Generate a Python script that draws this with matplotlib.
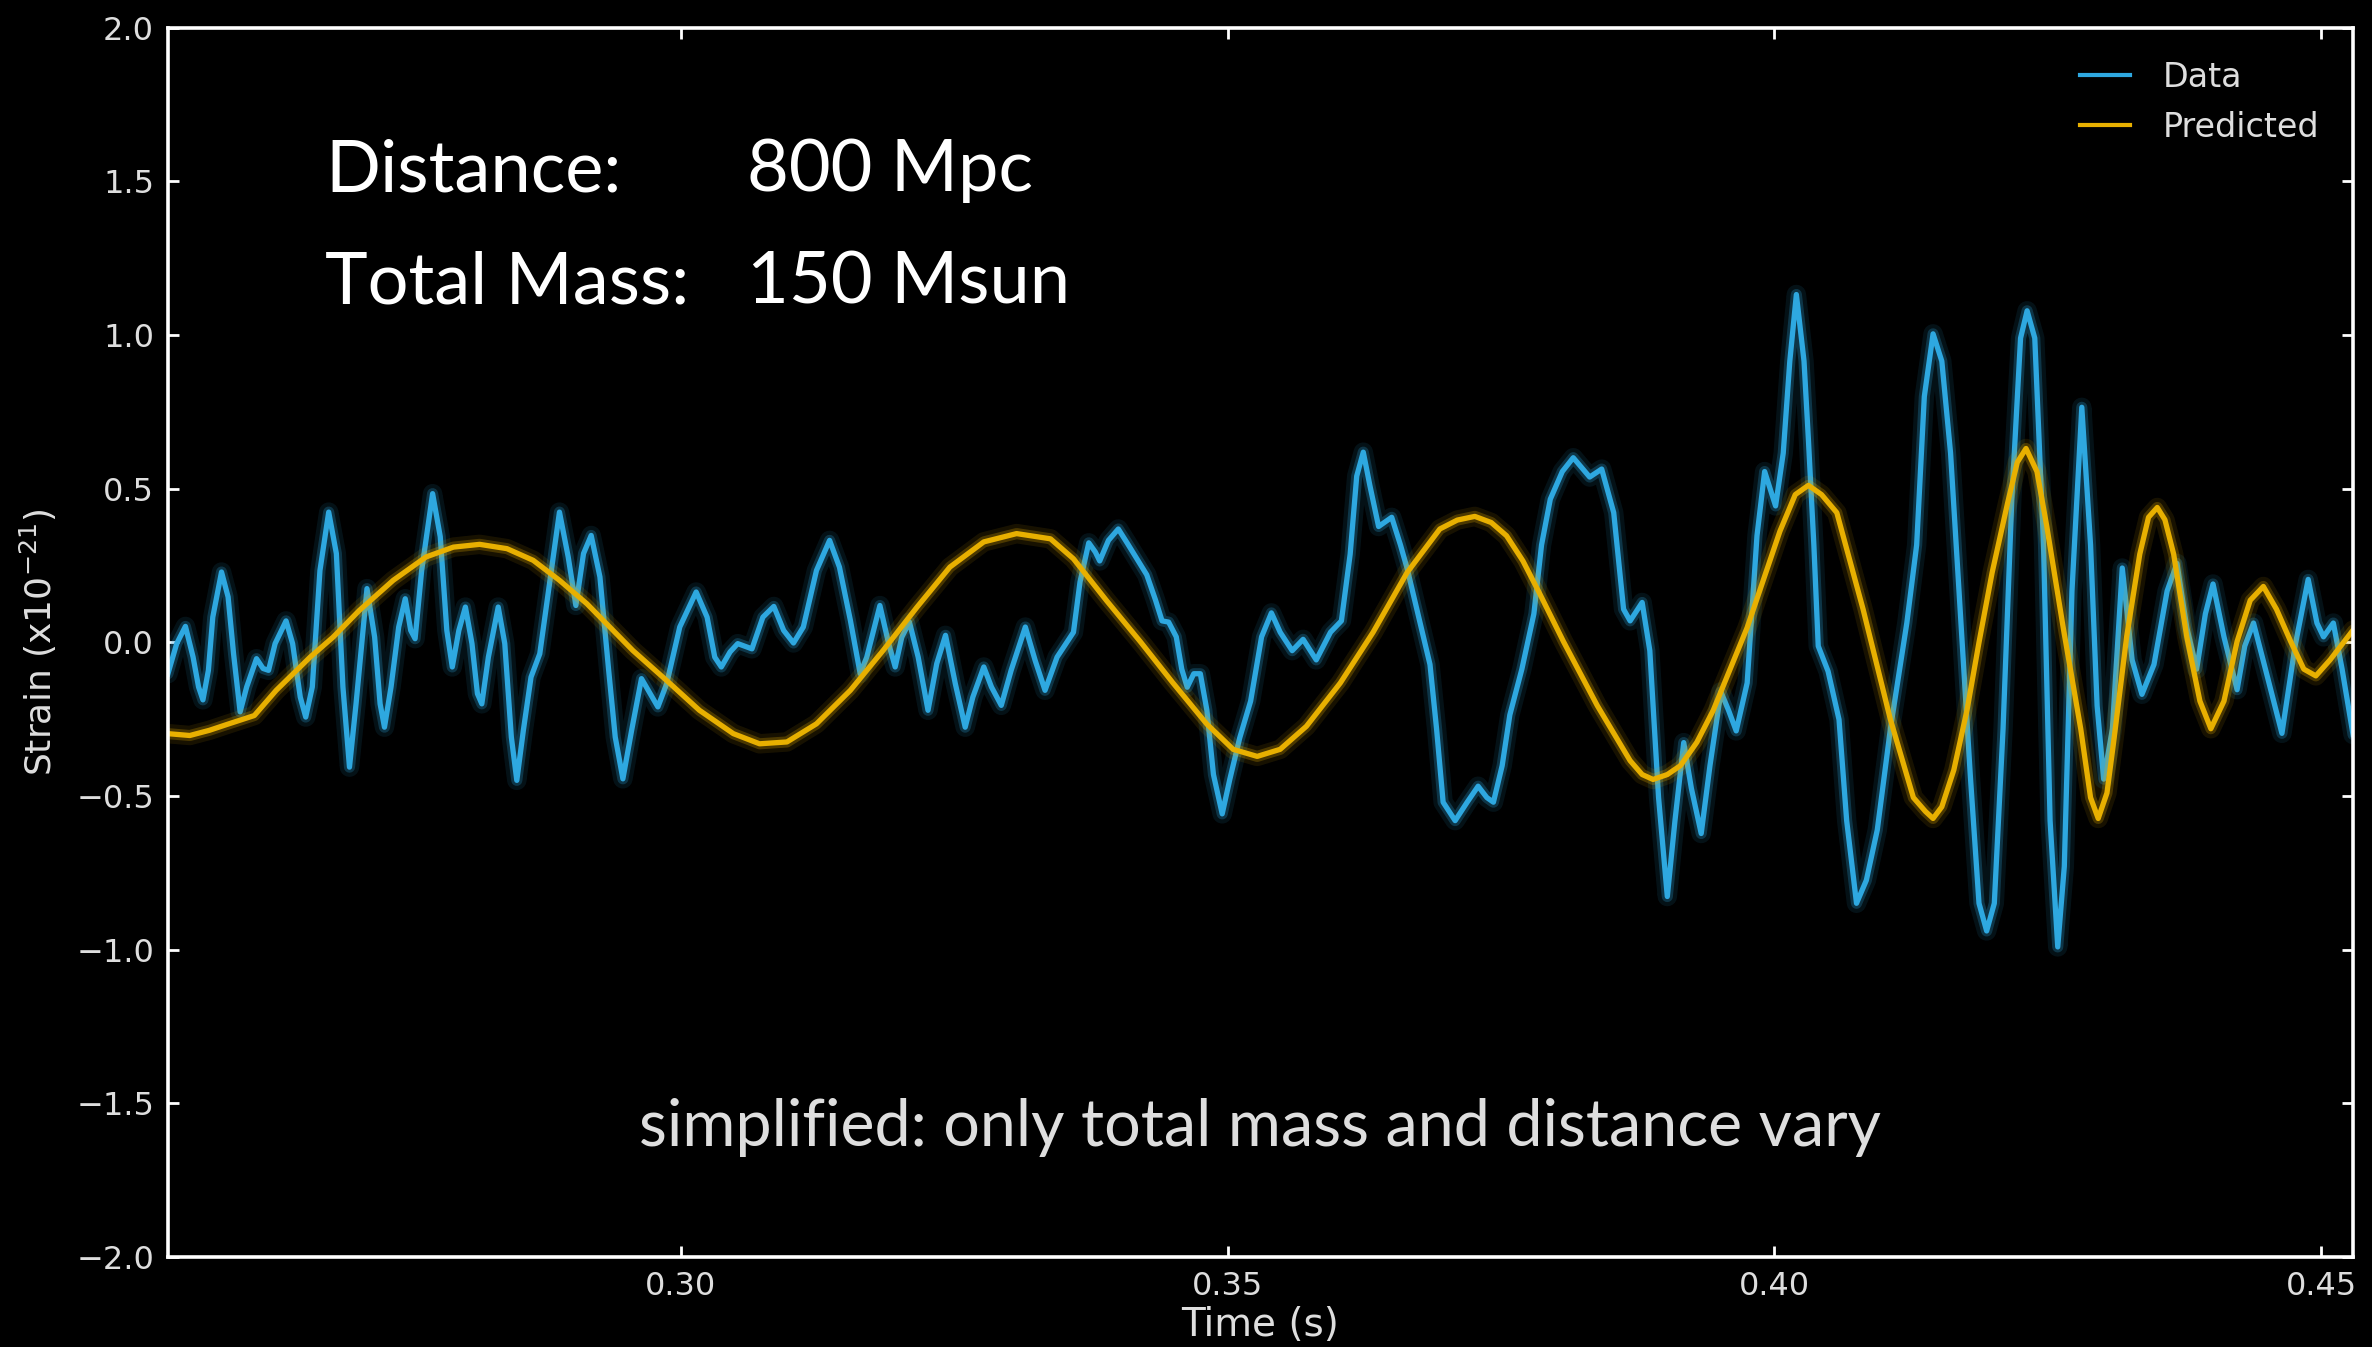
#!/usr/bin/env python3
"""
Strain data vs predicted chirp waveform (dark slide style)
"""

import matplotlib
matplotlib.use('Agg')
import matplotlib.pyplot as plt
from matplotlib.lines import Line2D

# --- values (time in s, strain in 1e-21) ---
data_time = [
    0.2531, 0.2539, 0.2547, 0.2554, 0.2559, 0.2563, 0.2568, 0.2572, 0.2580, 0.2586,
    0.2591, 0.2597, 0.2603, 0.2612, 0.2618, 0.2623, 0.2629, 0.2639, 0.2645, 0.2652,
    0.2657, 0.2663, 0.2670, 0.2678, 0.2685, 0.2691, 0.2697, 0.2703, 0.2713, 0.2720,
    0.2725, 0.2729, 0.2735, 0.2742, 0.2748, 0.2753, 0.2757, 0.2763, 0.2773, 0.2780,
    0.2786, 0.2791, 0.2797, 0.2803, 0.2809, 0.2814, 0.2818, 0.2824, 0.2833, 0.2839,
    0.2845, 0.2850, 0.2856, 0.2863, 0.2871, 0.2879, 0.2889, 0.2897, 0.2904, 0.2911,
    0.2918, 0.2926, 0.2934, 0.2940, 0.2947, 0.2955, 0.2964, 0.2979, 0.2987, 0.2999,
    0.3014, 0.3024, 0.3031, 0.3037, 0.3045, 0.3052, 0.3065, 0.3075, 0.3085, 0.3094,
    0.3103, 0.3112, 0.3124, 0.3136, 0.3145, 0.3155, 0.3164, 0.3170, 0.3182, 0.3190,
    0.3196, 0.3202, 0.3209, 0.3217, 0.3226, 0.3234, 0.3242, 0.3251, 0.3260, 0.3267,
    0.3277, 0.3284, 0.3293, 0.3302, 0.3315, 0.3324, 0.3333, 0.3344, 0.3359, 0.3365,
    0.3373, 0.3379, 0.3383, 0.3391, 0.3400, 0.3408, 0.3417, 0.3426, 0.3434, 0.3440,
    0.3446, 0.3453, 0.3458, 0.3463, 0.3469, 0.3475, 0.3481, 0.3487, 0.3495, 0.3502,
    0.3511, 0.3521, 0.3531, 0.3540, 0.3548, 0.3559, 0.3569, 0.3581, 0.3594, 0.3604,
    0.3612, 0.3618, 0.3624, 0.3630, 0.3638, 0.3644, 0.3650, 0.3658, 0.3664, 0.3676,
    0.3685, 0.3691, 0.3697, 0.3708, 0.3719, 0.3729, 0.3737, 0.3743, 0.3751, 0.3758,
    0.3769, 0.3780, 0.3787, 0.3795, 0.3806, 0.3816, 0.3831, 0.3842, 0.3853, 0.3862,
    0.3868, 0.3879, 0.3886, 0.3894, 0.3902, 0.3909, 0.3917, 0.3924, 0.3933, 0.3941,
    0.3951, 0.3958, 0.3965, 0.3975, 0.3984, 0.3991, 0.4001, 0.4008, 0.4014, 0.4020,
    0.4027, 0.4031, 0.4036, 0.4040, 0.4049, 0.4059, 0.4066, 0.4075, 0.4084, 0.4094,
    0.4106, 0.4121, 0.4130, 0.4137, 0.4145, 0.4153, 0.4161, 0.4170, 0.4179, 0.4187,
    0.4194, 0.4201, 0.4209, 0.4217, 0.4225, 0.4231, 0.4238, 0.4246, 0.4252, 0.4259,
    0.4265, 0.4272, 0.4281, 0.4289, 0.4295, 0.4301, 0.4309, 0.4318, 0.4327, 0.4336,
    0.4347, 0.4359, 0.4368, 0.4377, 0.4386, 0.4394, 0.4401, 0.4411, 0.4423, 0.4430,
    0.4438, 0.4450, 0.4464, 0.4476, 0.4488, 0.4496, 0.4502, 0.4511, 0.4519, 0.4529,
]
data_strain = [
    -0.102, -0.004, 0.052, -0.048, -0.145, -0.187, -0.091, 0.082, 0.229, 0.148,
    -0.037, -0.226, -0.145, -0.053, -0.085, -0.091, -0.004, 0.070, -0.004, -0.178,
    -0.243, -0.145, 0.234, 0.424, 0.289, -0.145, -0.406, -0.200, 0.175, 0.017,
    -0.200, -0.276, -0.145, 0.050, 0.142, 0.039, 0.012, 0.234, 0.484, 0.344,
    0.039, -0.080, 0.039, 0.115, -0.004, -0.167, -0.200, -0.048, 0.115, -0.004,
    -0.308, -0.449, -0.286, -0.113, -0.037, 0.169, 0.424, 0.278, 0.120, 0.289,
    0.348, 0.213, -0.091, -0.308, -0.444, -0.286, -0.118, -0.210, -0.135, 0.050,
    0.164, 0.082, -0.048, -0.080, -0.031, -0.004, -0.021, 0.082, 0.117, 0.039,
    -0.002, 0.050, 0.234, 0.332, 0.245, 0.072, -0.102, -0.048, 0.120, -0.004,
    -0.080, 0.017, 0.066, -0.048, -0.221, -0.069, 0.023, -0.135, -0.276, -0.178,
    -0.080, -0.145, -0.205, -0.091, 0.050, -0.059, -0.156, -0.048, 0.033, 0.197,
    0.324, 0.294, 0.265, 0.332, 0.369, 0.324, 0.272, 0.220, 0.138, 0.070,
    0.066, 0.018, -0.087, -0.146, -0.102, -0.102, -0.221, -0.430, -0.558, -0.445,
    -0.311, -0.191, 0.018, 0.096, 0.033, -0.027, 0.010, -0.057, 0.033, 0.070,
    0.287, 0.541, 0.619, 0.511, 0.377, 0.392, 0.407, 0.317, 0.242, 0.063,
    -0.072, -0.281, -0.520, -0.580, -0.520, -0.468, -0.505, -0.520, -0.401, -0.236,
    -0.087, 0.093, 0.317, 0.466, 0.556, 0.601, 0.538, 0.564, 0.422, 0.108,
    0.070, 0.130, -0.027, -0.505, -0.827, -0.580, -0.326, -0.475, -0.622, -0.401,
    -0.161, -0.221, -0.288, -0.132, 0.347, 0.556, 0.444, 0.616, 0.915, 1.132,
    0.915, 0.661, 0.317, -0.012, -0.094, -0.251, -0.580, -0.849, -0.774, -0.610,
    -0.281, 0.063, 0.317, 0.800, 1.004, 0.915, 0.616, 0.093, -0.430, -0.849,
    -0.939, -0.849, -0.281, 0.466, 0.990, 1.079, 0.990, 0.317, -0.580, -0.991,
    -0.729, 0.167, 0.765, 0.317, -0.206, -0.445, -0.281, 0.242, -0.057, -0.169,
    -0.072, 0.167, 0.257, 0.048, -0.087, 0.093, 0.190, 0.018, -0.154, -0.012,
    0.063, -0.102, -0.296, -0.012, 0.205, 0.063, 0.018, 0.063, -0.087, -0.300,
]

pred_time = [
    0.2531, 0.2551, 0.2569, 0.2585, 0.2610, 0.2630, 0.2661, 0.2682, 0.2706, 0.2737,
    0.2767, 0.2792, 0.2816, 0.2841, 0.2865, 0.2889, 0.2914, 0.2935, 0.2956, 0.2987,
    0.3017, 0.3048, 0.3072, 0.3097, 0.3124, 0.3155, 0.3185, 0.3216, 0.3246, 0.3277,
    0.3307, 0.3338, 0.3359, 0.3389, 0.3420, 0.3450, 0.3481, 0.3505, 0.3527, 0.3548,
    0.3572, 0.3603, 0.3633, 0.3664, 0.3694, 0.3710, 0.3726, 0.3741, 0.3755, 0.3770,
    0.3784, 0.3807, 0.3838, 0.3868, 0.3879, 0.3889, 0.3902, 0.3914, 0.3929, 0.3944,
    0.3975, 0.4005, 0.4019, 0.4031, 0.4043, 0.4057, 0.4081, 0.4106, 0.4127, 0.4138,
    0.4145, 0.4153, 0.4164, 0.4176, 0.4187, 0.4199, 0.4213, 0.4222, 0.4230, 0.4240,
    0.4249, 0.4264, 0.4280, 0.4289, 0.4296, 0.4304, 0.4310, 0.4322, 0.4334, 0.4342,
    0.4350, 0.4357, 0.4365, 0.4377, 0.4389, 0.4399, 0.4411, 0.4423, 0.4435, 0.4447,
    0.4459, 0.4472, 0.4484, 0.4495, 0.4508, 0.4529,
]
pred_strain = [
    -0.297, -0.303, -0.286, -0.267, -0.238, -0.156, -0.048, 0.017, 0.104, 0.202,
    0.278, 0.310, 0.319, 0.305, 0.267, 0.202, 0.126, 0.050, -0.026, -0.124,
    -0.221, -0.297, -0.330, -0.324, -0.265, -0.156, -0.026, 0.115, 0.245, 0.327,
    0.354, 0.337, 0.272, 0.137, 0.003, -0.132, -0.266, -0.348, -0.371, -0.348,
    -0.273, -0.132, 0.033, 0.227, 0.369, 0.398, 0.410, 0.390, 0.347, 0.265,
    0.168, 0.003, -0.206, -0.385, -0.430, -0.446, -0.430, -0.401, -0.325, -0.221,
    0.048, 0.362, 0.481, 0.511, 0.481, 0.422, 0.108, -0.251, -0.505, -0.550,
    -0.573, -0.535, -0.415, -0.221, 0.000, 0.227, 0.451, 0.586, 0.631, 0.556,
    0.377, 0.048, -0.281, -0.505, -0.573, -0.490, -0.327, 0.018, 0.287, 0.407,
    0.439, 0.399, 0.287, 0.018, -0.191, -0.281, -0.191, 0.003, 0.137, 0.182,
    0.108, 0.003, -0.087, -0.109, -0.057, 0.040,
]

x_ticks = [0.30, 0.35, 0.40, 0.45]
y_ticks = [-2.0, -1.5, -1.0, -0.5, 0.0, 0.5, 1.0, 1.5, 2.0]
param_names = ['Distance:', 'Total Mass:']
param_values = ['800 Mpc', '150 Msun']
note_text = 'simplified: only total mass and distance vary'

DATA_COLOR = '#2ea8e0'
PRED_COLOR = '#e8b000'
TEXT_GRAY = '#dedede'


def glow_line(ax, x, y, color, label):
    # soft halo first, then the sharp core on top
    ax.plot(x, y, color=color, lw=14, alpha=0.10, solid_joinstyle='round',
            solid_capstyle='round')
    ax.plot(x, y, color=color, lw=8, alpha=0.25, solid_joinstyle='round',
            solid_capstyle='round')
    ax.plot(x, y, color=color, lw=3.8, alpha=1.0, solid_joinstyle='round',
            label=label)


def main():
    fig = plt.figure(figsize=(23.72, 13.47), dpi=100, facecolor='black')
    ax = fig.add_axes([0.0708, 0.0668, 0.9212, 0.9126], facecolor='black')

    glow_line(ax, data_time, data_strain, DATA_COLOR, 'Data')
    glow_line(ax, pred_time, pred_strain, PRED_COLOR, 'Predicted')

    ax.set_xlim(0.2531, 0.4529)
    ax.set_ylim(-2.0, 2.0)
    ax.set_xticks(x_ticks)
    ax.set_yticks(y_ticks)

    for spine in ax.spines.values():
        spine.set_color('white')
        spine.set_linewidth(2.6)
    ax.tick_params(axis='both', which='both', direction='in', top=True, right=True,
                   length=8, width=2, color='white', labelcolor=TEXT_GRAY,
                   labelsize=23, pad=10)

    ax.set_xlabel('Time (s)', fontsize=28, color=TEXT_GRAY)
    ax.set_ylabel('Strain (x10$^{-21}$)', fontsize=26, color=TEXT_GRAY)
    ax.xaxis.set_label_coords(0.5, -0.040)
    ax.yaxis.set_label_coords(-0.050, 0.5)

    handles = [Line2D([], [], color=DATA_COLOR, lw=3),
               Line2D([], [], color=PRED_COLOR, lw=3)]
    ax.legend(handles, ['Data', 'Predicted'], loc='upper right', frameon=False,
              fontsize=24, labelcolor=TEXT_GRAY, handlelength=1.5,
              handletextpad=1.0, borderaxespad=0.6, labelspacing=0.5)

    # overlay slide text
    rows_y = [0.867, 0.776]
    for name, value, yy in zip(param_names, param_values, rows_y):
        ax.text(0.0719, yy, name, transform=ax.transAxes, fontsize=52,
                family='Lato', color='white', va='baseline', ha='left')
        ax.text(0.2650, yy, value, transform=ax.transAxes, fontsize=52,
                family='Lato', color='white', va='baseline', ha='left')
    ax.text(0.5, 0.090, note_text, transform=ax.transAxes, fontsize=46.5,
            family='Lato', color=TEXT_GRAY, va='baseline', ha='center')

    fig.savefig('out.png', dpi=100, facecolor='black')


if __name__ == '__main__':
    main()
